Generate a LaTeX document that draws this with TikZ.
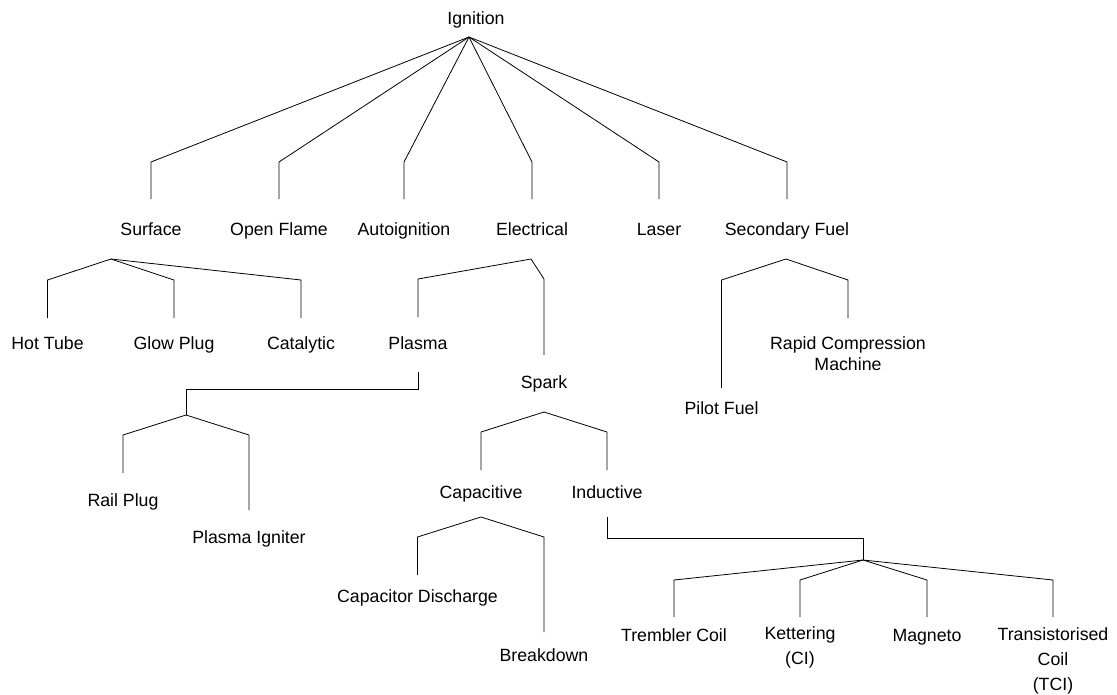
\documentclass[tikz,border=0pt]{standalone}
\usepackage{fontspec}
\setmainfont{Liberation Sans}

\begin{document}
\begin{tikzpicture}[x=0.75pt,y=-0.75pt,line width=0.6pt,
  lbl2/.style={inner sep=0pt,align=center,font=\fontsize{13.3}{16}\selectfont},
  lbl/.style={lbl2,text height=12pt,text depth=2.5pt}]
  \useasboundingbox (0,0) rectangle (1117,694);

  % labels
  \node[lbl] (ign) at (476,18) {Ignition};
  \node[lbl] (surf) at (151,229) {Surface};
  \node[lbl] (flame) at (279,229) {Open Flame};
  \node[lbl] (auto) at (404,229) {Autoignition};
  \node[lbl] (elec) at (532,229) {Electrical};
  \node[lbl] (laser) at (659,229) {Laser};
  \node[lbl] (secfuel) at (787,229) {Secondary Fuel};

  \node[lbl] (hottube) at (47.5,343) {Hot Tube};
  \node[lbl] (glow) at (174,343) {Glow Plug};
  \node[lbl] (cat) at (301,343) {Catalytic};
  \node[lbl] (plasma) at (418,343) {Plasma};
  \node[lbl] (spark) at (544,382) {Spark};
  \node[lbl2] (rcm) at (848,353.5) {Rapid Compression\\Machine};
  \node[lbl] (pilot) at (721.5,408) {Pilot Fuel};

  \node[lbl] (rail) at (123,500) {Rail Plug};
  \node[lbl] (igniter) at (249,537) {Plasma Igniter};
  \node[lbl] (capac) at (481,492) {Capacitive};
  \node[lbl] (induct) at (607,492) {Inductive};
  \node[lbl] (cd) at (417.5,596) {Capacitor Discharge};
  \node[lbl] (breakdown) at (544,655) {Breakdown};

  \node[lbl] (trembler) at (674,635) {Trembler Coil};
  \node[lbl2] (kett) at (800,647.5) {Kettering\\[3pt](CI)};
  \node[lbl] (magneto) at (927,635) {Magneto};
  \node[lbl2] (tci) at (1053,661) {Transistorised\\[3pt]Coil\\[3pt](TCI)};

  % forks
  \coordinate (ignfork) at (469,37);
  \coordinate (surffork) at (111,259);
  \coordinate (elecfork) at (531,259);
  \coordinate (secfork) at (786,259);
  \coordinate (plasfork) at (186,415);
  \coordinate (sparkfork) at (544,412);
  \coordinate (capfork) at (481,517);
  \coordinate (indfork) at (863,560);

  % first level
  \draw (ignfork) -- (surf |- 0,162) -- (surf |- 0,199);
  \draw (ignfork) -- (flame |- 0,162) -- (flame |- 0,199);
  \draw (ignfork) -- (auto |- 0,162) -- (auto |- 0,199);
  \draw (ignfork) -- (elec |- 0,162) -- (elec |- 0,199);
  \draw (ignfork) -- (laser |- 0,162) -- (laser |- 0,199);
  \draw (ignfork) -- (secfuel |- 0,162) -- (secfuel |- 0,199);

  % surface
  \draw (surffork) -- (hottube |- 0,280) -- (hottube |- 0,318);
  \draw (surffork) -- (glow |- 0,280) -- (glow |- 0,318);
  \draw (surffork) -- (cat |- 0,280) -- (cat |- 0,318);

  % electrical
  \draw (elecfork) -- (plasma |- 0,279) -- (plasma |- 0,317);
  \draw (elecfork) -- (spark |- 0,279) -- (spark |- 0,355);

  % secondary fuel
  \draw (secfork) -- (pilot |- 0,280) -- (pilot |- 0,388);
  \draw (secfork) -- (rcm |- 0,280) -- (rcm |- 0,318);

  % plasma
  \draw (plasma |- 0,372) -- (plasma |- 0,389) -- (plasfork |- 0,389) -- (plasfork);
  \draw (plasfork) -- (rail |- 0,435) -- (rail |- 0,473);
  \draw (plasfork) -- (igniter |- 0,435) -- (igniter |- 0,510);

  % spark
  \draw (sparkfork) -- (capac |- 0,432) -- (capac |- 0,470);
  \draw (sparkfork) -- (induct |- 0,432) -- (induct |- 0,470);

  % capacitive
  \draw (capfork) -- (cd |- 0,537) -- (cd |- 0,575);
  \draw (capfork) -- (breakdown |- 0,537) -- (breakdown |- 0,632);

  % inductive
  \draw (induct |- 0,517) -- (induct |- 0,538) -- (indfork |- 0,538) -- (indfork);
  \draw (indfork) -- (trembler |- 0,580) -- (trembler |- 0,617);
  \draw (indfork) -- (kett |- 0,580) -- (kett |- 0,617);
  \draw (indfork) -- (magneto |- 0,580) -- (magneto |- 0,617);
  \draw (indfork) -- (tci |- 0,580) -- (tci |- 0,617);
\end{tikzpicture}
\end{document}
